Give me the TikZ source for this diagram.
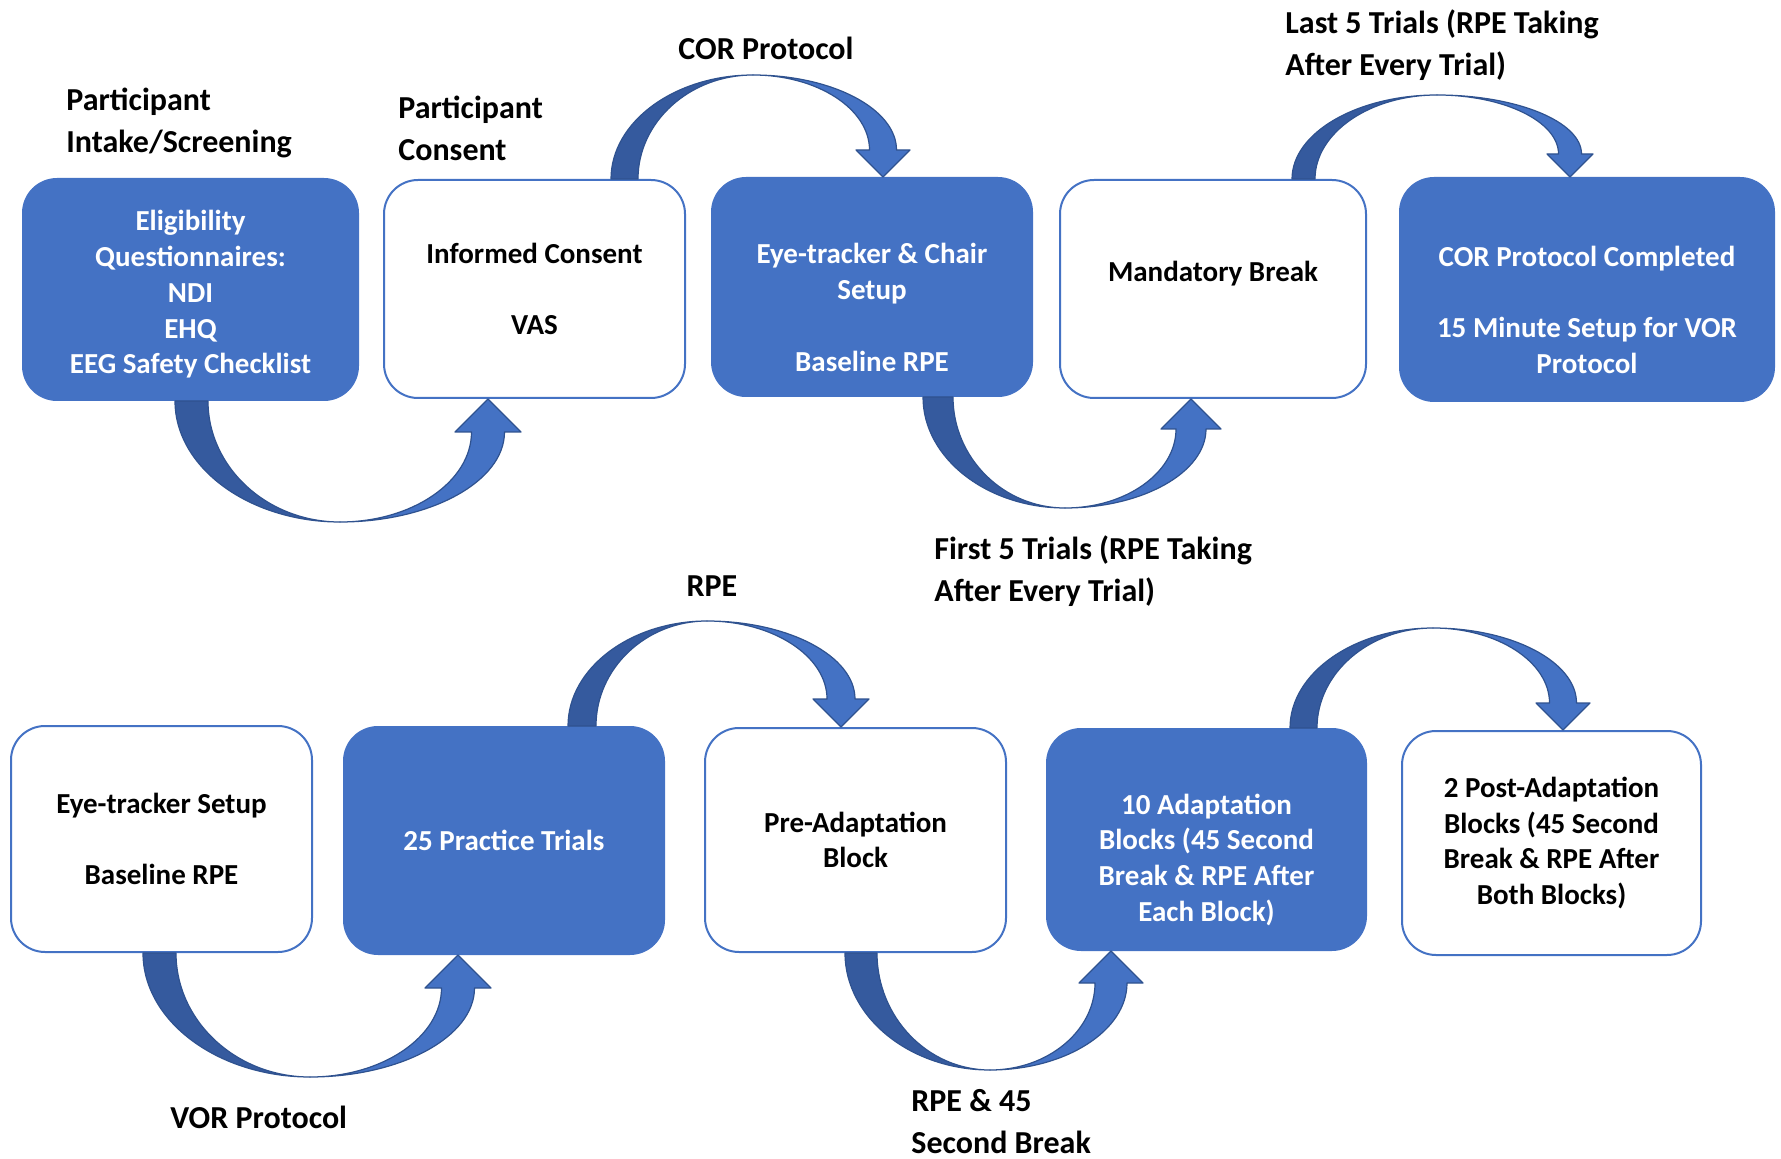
\documentclass[tikz,border=0pt]{standalone}
\usepackage{fontspec}
\setmainfont{Carlito}
\usetikzlibrary{calc}

\definecolor{boxblue}{HTML}{4472C4}
\definecolor{backblue}{HTML}{355A9E}
\definecolor{edgeblue}{HTML}{2F528F}

\newcommand{\boxfont}{\fontsize{14.5}{17.9}\selectfont\bfseries}
\newcommand{\labelfont}{\fontsize{16}{21}\selectfont\bfseries}

\tikzset{
  bluebox/.style={rectangle, rounded corners=17pt, fill=boxblue, draw=boxblue, line width=1pt, text=white, font=\boxfont, align=center, inner sep=0pt},
  whitebox/.style={rectangle, rounded corners=17pt, fill=white, draw=boxblue, line width=1pt, text=black, font=\boxfont, align=center, inner sep=0pt},
  steplabel/.style={font=\labelfont, align=left, inner sep=0pt, anchor=west},
  backpart/.style={fill=backblue, draw=edgeblue, line width=0.6pt, line join=round},
  frontpart/.style={fill=boxblue, draw=edgeblue, line width=0.6pt, line join=round},
}

% curved block arrow: from, to, anchor, x start, x tip, bend point, width, side (1 below, -1 above)
\newcommand{\bendarrow}[8]{%
  \coordinate (so) at (#4,0 |- #1.#3);
  \coordinate (si) at ($(so)+(#7,0)$);
  \coordinate (t) at (#5,0 |- #2.#3);
  \coordinate (b) at (#6);
  \coordinate (ho) at ($(t)+(0.5*#7,#8*#7)$);
  \coordinate (hi) at ($(t)+(-0.5*#7,#8*#7)$);
  \coordinate (hR) at ($(t)+(#7,#8*#7)$);
  \coordinate (hL) at ($(t)+(-#7,#8*#7)$);
  \filldraw[backpart] (so) .. controls ($(so)!0.55!(so|-b)$) and ($(b)!0.55!(so|-b)$) .. (b)
    .. controls ($(b)!0.55!(si|-b)$) and ($(si)!0.55!(si|-b)$) .. (si) -- cycle;
  \filldraw[frontpart] (b) .. controls ($(b)!0.55!(ho|-b)$) and ($(ho)!0.55!(ho|-b)$) .. (ho)
    -- (hR) -- (t) -- (hL) -- (hi) .. controls ($(hi)!0.55!(hi|-b)$) and ($(b)!0.55!(hi|-b)$) .. (b) -- cycle;
}

\begin{document}
\begin{tikzpicture}[x=0.5pt, y=-0.5pt]
\useasboundingbox (0,0) rectangle (1781,1159);
% Top row
\node[bluebox, minimum width=167.5pt, minimum height=110.5pt] (elig) at (190.5,289.5) {\rule{0pt}{15pt}Eligibility\\Questionnaires:\\NDI\\EHQ\\EEG Safety Checklist};
\node[whitebox, minimum width=150.5pt, minimum height=109pt] (consent) at (534.5,289) {Informed Consent\\[17.9pt]VAS};
\node[bluebox, minimum width=160pt, minimum height=109pt] (setup) at (872,287) {\strut\\Eye-tracker \& Chair\\Setup\\[17.9pt]Baseline RPE};
\node[whitebox, minimum width=153pt, minimum height=109pt] (brk) at (1213,289) {Mandatory Break\\\mbox{}};
\node[bluebox, minimum width=187pt, minimum height=111.5pt] (cor) at (1587,289.5) {\strut\\COR Protocol Completed\\[17.9pt]15 Minute Setup for VOR\\Protocol};
% Bottom row
\node[whitebox, minimum width=150.5pt, minimum height=113pt] (eyevor) at (161.5,839) {Eye-tracker Setup\\[17.9pt]Baseline RPE};
\node[bluebox, minimum width=160pt, minimum height=113.5pt] (practice) at (504,840.5) {25 Practice Trials};
\node[whitebox, minimum width=150.5pt, minimum height=112pt] (preadapt) at (855.5,840) {Pre-Adaptation\\Block};
\node[bluebox, minimum width=159.5pt, minimum height=110.5pt] (adapt) at (1206.5,839.5) {\strut\\10 Adaptation\\Blocks (45 Second\\Break \& RPE After\\Each Block)};
\node[whitebox, minimum width=149.5pt, minimum height=112pt] (postadapt) at (1551.5,843) {2 Post-Adaptation\\Blocks (45 Second\\Break \& RPE After\\Both Blocks)};
% Arrows
\bendarrow{elig}{consent}{south}{175}{488}{340,522}{33}{1}
\bendarrow{consent}{setup}{north}{611}{883}{753,75}{27}{-1}
\bendarrow{setup}{brk}{south}{923}{1191}{1065,508}{30}{1}
\bendarrow{brk}{cor}{north}{1292}{1570}{1437,95}{23}{-1}
\bendarrow{eyevor}{practice}{south}{143}{458}{310,1077}{33}{1}
\bendarrow{practice}{preadapt}{north}{568}{841}{707,621}{28}{-1}
\bendarrow{preadapt}{adapt}{south}{845}{1111}{990,1070}{32}{1}
\bendarrow{adapt}{postadapt}{north}{1290}{1563}{1433,628}{27}{-1}
% Labels
\node[steplabel] (intakelbl) at (66,123) {Participant\\Intake/Screening};
\node[steplabel] (consentlbl) at (398,128) {Participant\\Consent};
\node[steplabel, anchor=center] (corlbl) at (766,48) {COR Protocol};
\node[steplabel] (lastlbl) at (1285,45) {Last 5 Trials (RPE Taking\\After Every Trial)};
\node[steplabel] (firstlbl) at (934,571) {First 5 Trials (RPE Taking\\After Every Trial)};
\node[steplabel, anchor=center] (rpelbl) at (712,586) {RPE};
\node[steplabel] (vorlbl) at (170,1117) {VOR Protocol};
\node[steplabel] (breaklbl) at (911,1122) {RPE \& 45\\Second Break};
\end{tikzpicture}
\end{document}
